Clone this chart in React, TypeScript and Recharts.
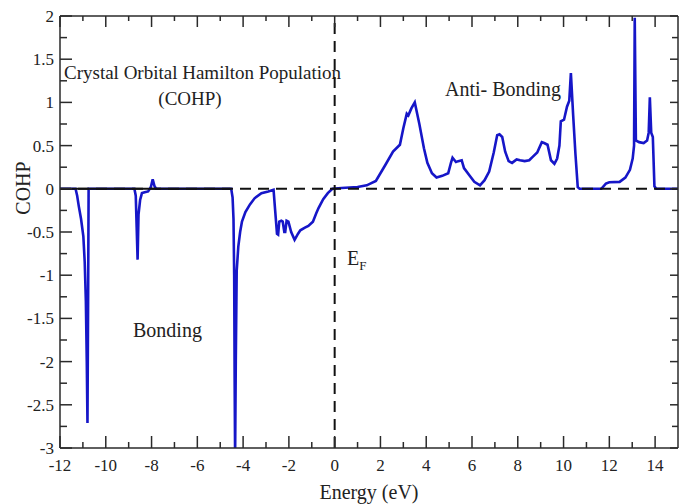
import React from 'react';
import { LineChart, Line, XAxis, YAxis, ReferenceLine, Customized } from 'recharts';

// energy (eV) and COHP values
const energy = [
  -12, -11.32, -11.25, -11.18, -11.08, -10.98, -10.92, -10.87, -10.83, -10.8, -10.77, -10.75,
  -8.75, -8.69, -8.65, -8.61, -8.57, -8.5, -8.42, -8.3, -8.15, -8.03, -7.95, -7.87, -7.8,
  -4.52, -4.46, -4.42, -4.39, -4.37, -4.35, -4.32, -4.28, -4.21, -4.13, -4.05, -3.9, -3.7, -3.5,
  -3.2, -2.9, -2.67, -2.6, -2.52, -2.47, -2.42, -2.33, -2.27, -2.2, -2.16, -2.1, -2.02, -1.9,
  -1.75, -1.6, -1.5, -1.3, -1.15, -0.95, -0.8, -0.7, -0.5, -0.3, -0.1,
  0.3, 1.0, 1.4, 1.8, 2.2, 2.55, 2.85, 3.0, 3.15, 3.22, 3.35, 3.5, 3.7, 3.9, 4.05, 4.25, 4.45,
  4.7, 4.96, 5.08, 5.15, 5.3, 5.4, 5.55, 5.65, 5.9, 6.1, 6.35, 6.55, 6.75, 6.95, 7.1, 7.2, 7.32,
  7.45, 7.6, 7.75, 7.95, 8.1, 8.3, 8.5, 8.65, 8.85, 9.05, 9.15, 9.3, 9.45, 9.6, 9.72, 9.82, 9.88,
  10.02, 10.15, 10.25, 10.32, 10.42, 10.52, 10.62, 10.7,
  11.65, 11.85, 12.0, 12.45, 12.7, 12.9, 13.02, 13.08, 13.11, 13.16, 13.3, 13.5, 13.65, 13.72,
  13.77, 13.83, 13.9, 13.97, 14.05, 15,
];
const cohp = [
  0, 0, -0.08, -0.2, -0.35, -0.55, -0.85, -1.3, -2.0, -2.71, -1.2, 0,
  0, -0.08, -0.45, -0.82, -0.3, -0.13, -0.05, -0.04, -0.03, 0.02, 0.11, 0.03, 0,
  0, -0.1, -0.35, -1.0, -2.2, -3.1, -2.0, -0.95, -0.67, -0.5, -0.38, -0.27, -0.18, -0.11,
  -0.05, -0.03, -0.01, -0.25, -0.52, -0.53, -0.38, -0.37, -0.38, -0.5, -0.5, -0.37, -0.38, -0.5,
  -0.59, -0.52, -0.48, -0.45, -0.43, -0.38, -0.28, -0.22, -0.12, -0.05, 0,
  0.01, 0.02, 0.04, 0.09, 0.27, 0.43, 0.51, 0.7, 0.87, 0.85, 0.93, 1.0, 0.75, 0.47, 0.3, 0.18, 0.13,
  0.15, 0.18, 0.3, 0.36, 0.31, 0.32, 0.33, 0.24, 0.15, 0.08, 0.04, 0.1, 0.2, 0.42, 0.62, 0.63, 0.6,
  0.43, 0.32, 0.3, 0.34, 0.33, 0.32, 0.33, 0.37, 0.42, 0.54, 0.53, 0.51, 0.33, 0.29, 0.35, 0.5, 0.78,
  0.8, 0.95, 1.02, 1.34, 0.85, 0.4, 0.02, 0,
  0, 0.06, 0.075, 0.08, 0.13, 0.22, 0.35, 0.5, 1.98, 0.56, 0.54, 0.53, 0.56, 0.65,
  1.06, 0.65, 0.6, 0.03, 0, 0,
];

const xMajorTicks = [-12, -10, -8, -6, -4, -2, 0, 2, 4, 6, 8, 10, 12, 14];
const xMinorTicks = [-11, -9, -7, -5, -3, -1, 1, 3, 5, 7, 9, 11, 13];
const yMajorTicks = [-3, -2.5, -2, -1.5, -1, -0.5, 0, 0.5, 1, 1.5, 2];
const yMinorTicks = [-2.75, -2.25, -1.75, -1.25, -0.75, -0.25, 0.25, 0.75, 1.25, 1.75];

const xTicks = [...xMajorTicks, ...xMinorTicks].sort((a, b) => a - b);
const yTicks = [...yMajorTicks, ...yMinorTicks].sort((a, b) => a - b);

const data = energy.map((e, i) => ({ energy: e, cohp: cohp[i] }));

const font = '"Liberation Serif", "DejaVu Serif", serif';
const ink = '#2a2a2a';
const frame = { stroke: ink, strokeWidth: 1.5 };
const textStyle = { fontFamily: font, fill: '#222' };

// ticks point inward; minor ones are shorter and carry no label
function BottomTick(props: any) {
  const { x, y, payload } = props;
  const major = xMajorTicks.includes(payload.value);
  const base = y - 11;
  return (
    <g>
      <line x1={x} x2={x} y1={base} y2={base - (major ? 12 : 6)} stroke={ink} strokeWidth={1.5} />
      {major && (
        <text x={x} y={y} dy="0.71em" textAnchor="middle" fontSize={17} style={textStyle}>
          {payload.value}
        </text>
      )}
    </g>
  );
}

function LeftTick(props: any) {
  const { x, y, payload } = props;
  const major = yMajorTicks.includes(payload.value);
  const base = x + 6;
  return (
    <g>
      <line x1={base} x2={base + (major ? 12 : 7)} y1={y} y2={y} stroke={ink} strokeWidth={1.5} />
      {major && (
        <text x={x} y={y} dy="0.355em" textAnchor="end" fontSize={17} style={textStyle}>
          {payload.value}
        </text>
      )}
    </g>
  );
}

function TopTick(props: any) {
  const { x, y, payload } = props;
  const major = xMajorTicks.includes(payload.value);
  return <line x1={x} x2={x} y1={y} y2={y + (major ? 11 : 5)} stroke={ink} strokeWidth={1.5} />;
}

function RightTick(props: any) {
  const { x, y, payload } = props;
  const major = yMajorTicks.includes(payload.value);
  return <line x1={x} x2={x - (major ? 8 : 6)} y1={y} y2={y} stroke={ink} strokeWidth={1.5} />;
}

function Annotations() {
  return (
    <g style={textStyle}>
      <text x={64} y={79} fontSize={19} style={textStyle}>Crystal Orbital Hamilton Population</text>
      <text x={190} y={105} fontSize={19} textAnchor="middle" style={textStyle}>(COHP)</text>
      <text x={445} y={96} fontSize={20} style={textStyle}>Anti- Bonding</text>
      <text x={133} y={337} fontSize={20} style={textStyle}>Bonding</text>
      <text x={347} y={265} fontSize={20} style={textStyle}>
        E<tspan fontSize={13} dy={5}>F</tspan>
      </text>
      <text x={30} y={188} fontSize={20} textAnchor="middle" transform="rotate(-90 30 188)" style={textStyle}>
        COHP
      </text>
    </g>
  );
}

export default function App() {
  return (
    <div style={{ position: 'absolute', left: 0, top: 0, background: '#fff', fontFamily: font }}>
      <LineChart width={688} height={504} data={data} margin={{ top: 15, right: 9, bottom: 0, left: 0 }}>
        <XAxis xAxisId="main" dataKey="energy" type="number" domain={[-12, 15]} allowDataOverflow
          ticks={xTicks} interval={0} height={56} tickLine={false} tickSize={0} tickMargin={11}
          axisLine={frame} tick={BottomTick}
          label={{ value: 'Energy (eV)', position: 'insideBottom', offset: 5, fontSize: 20, style: textStyle }} />
        <YAxis yAxisId="main" type="number" domain={[-3, 2]} allowDataOverflow
          ticks={yTicks} interval={0} width={60} tickLine={false} tickSize={0} tickMargin={6}
          axisLine={frame} tick={LeftTick} />
        <XAxis xAxisId="top" dataKey="energy" type="number" domain={[-12, 15]} allowDataOverflow
          orientation="top" ticks={xTicks} interval={0} height={1} tickLine={false} tickSize={0} tickMargin={0}
          axisLine={frame} tick={TopTick} />
        <YAxis yAxisId="right" type="number" domain={[-3, 2]} allowDataOverflow
          orientation="right" ticks={yTicks} interval={0} width={1} tickLine={false} tickSize={0} tickMargin={0}
          axisLine={frame} tick={RightTick} />

        <Line xAxisId="main" yAxisId="main" type="linear" dataKey="cohp" stroke="#1616c8" strokeWidth={2.6}
          dot={false} activeDot={false} isAnimationActive={false} />
        {/* keeps the frame axes tied to the same data range */}
        <Line xAxisId="top" yAxisId="right" type="linear" dataKey="cohp" stroke="none"
          dot={false} activeDot={false} isAnimationActive={false} />

        <ReferenceLine xAxisId="main" yAxisId="main" y={0} stroke="#111" strokeWidth={2} strokeDasharray="11 7" />
        <ReferenceLine xAxisId="main" yAxisId="main" segment={[{ x: -12, y: 0 }, { x: -4.55, y: 0 }]} stroke="#111" strokeWidth={2} />
        <ReferenceLine xAxisId="main" yAxisId="main" x={0} stroke="#111" strokeWidth={2} strokeDasharray="11 7" />

        <Customized component={<Annotations />} />
      </LineChart>
    </div>
  );
}
